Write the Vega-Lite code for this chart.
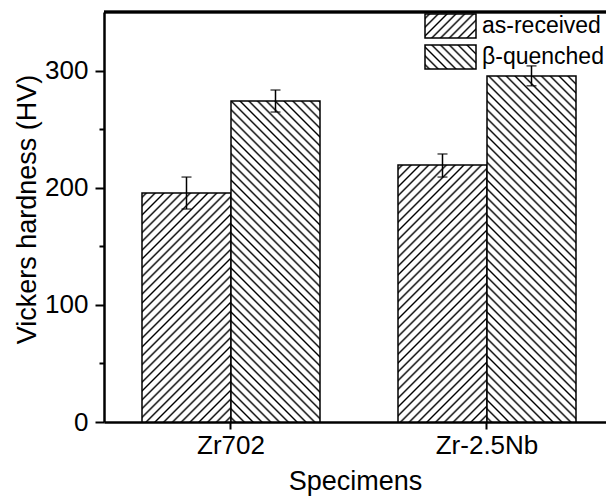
{
  "$schema": "https://vega.github.io/schema/vega-lite/v6.json",
  "autosize": {"type": "none"},
  "padding": {"left": 104, "top": 12, "right": 0, "bottom": 75},
  "width": 502,
  "height": 410,
  "background": "white",
  "config": {
    "font": "Liberation Sans",
    "view": {"stroke": null},
    "axis": {"domainColor": "black", "tickColor": "black", "labelColor": "black", "titleColor": "black", "titleFontWeight": "normal", "grid": false}
  },
  "params": [
    {"name": "hatch", "value": [
      {"offset":0.0055,"color":"#fff"},{"offset":0.01,"color":"#000"},{"offset":0.0145,"color":"#fff"},
      {"offset":0.0255,"color":"#fff"},{"offset":0.03,"color":"#000"},{"offset":0.0345,"color":"#fff"},
      {"offset":0.0455,"color":"#fff"},{"offset":0.05,"color":"#000"},{"offset":0.0545,"color":"#fff"},
      {"offset":0.0655,"color":"#fff"},{"offset":0.07,"color":"#000"},{"offset":0.0745,"color":"#fff"},
      {"offset":0.0855,"color":"#fff"},{"offset":0.09,"color":"#000"},{"offset":0.0945,"color":"#fff"},
      {"offset":0.1055,"color":"#fff"},{"offset":0.11,"color":"#000"},{"offset":0.1145,"color":"#fff"},
      {"offset":0.1255,"color":"#fff"},{"offset":0.13,"color":"#000"},{"offset":0.1345,"color":"#fff"},
      {"offset":0.1455,"color":"#fff"},{"offset":0.15,"color":"#000"},{"offset":0.1545,"color":"#fff"},
      {"offset":0.1655,"color":"#fff"},{"offset":0.17,"color":"#000"},{"offset":0.1745,"color":"#fff"},
      {"offset":0.1855,"color":"#fff"},{"offset":0.19,"color":"#000"},{"offset":0.1945,"color":"#fff"},
      {"offset":0.2055,"color":"#fff"},{"offset":0.21,"color":"#000"},{"offset":0.2145,"color":"#fff"},
      {"offset":0.2255,"color":"#fff"},{"offset":0.23,"color":"#000"},{"offset":0.2345,"color":"#fff"},
      {"offset":0.2455,"color":"#fff"},{"offset":0.25,"color":"#000"},{"offset":0.2545,"color":"#fff"},
      {"offset":0.2655,"color":"#fff"},{"offset":0.27,"color":"#000"},{"offset":0.2745,"color":"#fff"},
      {"offset":0.2855,"color":"#fff"},{"offset":0.29,"color":"#000"},{"offset":0.2945,"color":"#fff"},
      {"offset":0.3055,"color":"#fff"},{"offset":0.31,"color":"#000"},{"offset":0.3145,"color":"#fff"},
      {"offset":0.3255,"color":"#fff"},{"offset":0.33,"color":"#000"},{"offset":0.3345,"color":"#fff"},
      {"offset":0.3455,"color":"#fff"},{"offset":0.35,"color":"#000"},{"offset":0.3545,"color":"#fff"},
      {"offset":0.3655,"color":"#fff"},{"offset":0.37,"color":"#000"},{"offset":0.3745,"color":"#fff"},
      {"offset":0.3855,"color":"#fff"},{"offset":0.39,"color":"#000"},{"offset":0.3945,"color":"#fff"},
      {"offset":0.4055,"color":"#fff"},{"offset":0.41,"color":"#000"},{"offset":0.4145,"color":"#fff"},
      {"offset":0.4255,"color":"#fff"},{"offset":0.43,"color":"#000"},{"offset":0.4345,"color":"#fff"},
      {"offset":0.4455,"color":"#fff"},{"offset":0.45,"color":"#000"},{"offset":0.4545,"color":"#fff"},
      {"offset":0.4655,"color":"#fff"},{"offset":0.47,"color":"#000"},{"offset":0.4745,"color":"#fff"},
      {"offset":0.4855,"color":"#fff"},{"offset":0.49,"color":"#000"},{"offset":0.4945,"color":"#fff"},
      {"offset":0.5055,"color":"#fff"},{"offset":0.51,"color":"#000"},{"offset":0.5145,"color":"#fff"},
      {"offset":0.5255,"color":"#fff"},{"offset":0.53,"color":"#000"},{"offset":0.5345,"color":"#fff"},
      {"offset":0.5455,"color":"#fff"},{"offset":0.55,"color":"#000"},{"offset":0.5545,"color":"#fff"},
      {"offset":0.5655,"color":"#fff"},{"offset":0.57,"color":"#000"},{"offset":0.5745,"color":"#fff"},
      {"offset":0.5855,"color":"#fff"},{"offset":0.59,"color":"#000"},{"offset":0.5945,"color":"#fff"},
      {"offset":0.6055,"color":"#fff"},{"offset":0.61,"color":"#000"},{"offset":0.6145,"color":"#fff"},
      {"offset":0.6255,"color":"#fff"},{"offset":0.63,"color":"#000"},{"offset":0.6345,"color":"#fff"},
      {"offset":0.6455,"color":"#fff"},{"offset":0.65,"color":"#000"},{"offset":0.6545,"color":"#fff"},
      {"offset":0.6655,"color":"#fff"},{"offset":0.67,"color":"#000"},{"offset":0.6745,"color":"#fff"},
      {"offset":0.6855,"color":"#fff"},{"offset":0.69,"color":"#000"},{"offset":0.6945,"color":"#fff"},
      {"offset":0.7055,"color":"#fff"},{"offset":0.71,"color":"#000"},{"offset":0.7145,"color":"#fff"},
      {"offset":0.7255,"color":"#fff"},{"offset":0.73,"color":"#000"},{"offset":0.7345,"color":"#fff"},
      {"offset":0.7455,"color":"#fff"},{"offset":0.75,"color":"#000"},{"offset":0.7545,"color":"#fff"},
      {"offset":0.7655,"color":"#fff"},{"offset":0.77,"color":"#000"},{"offset":0.7745,"color":"#fff"},
      {"offset":0.7855,"color":"#fff"},{"offset":0.79,"color":"#000"},{"offset":0.7945,"color":"#fff"},
      {"offset":0.8055,"color":"#fff"},{"offset":0.81,"color":"#000"},{"offset":0.8145,"color":"#fff"},
      {"offset":0.8255,"color":"#fff"},{"offset":0.83,"color":"#000"},{"offset":0.8345,"color":"#fff"},
      {"offset":0.8455,"color":"#fff"},{"offset":0.85,"color":"#000"},{"offset":0.8545,"color":"#fff"},
      {"offset":0.8655,"color":"#fff"},{"offset":0.87,"color":"#000"},{"offset":0.8745,"color":"#fff"},
      {"offset":0.8855,"color":"#fff"},{"offset":0.89,"color":"#000"},{"offset":0.8945,"color":"#fff"},
      {"offset":0.9055,"color":"#fff"},{"offset":0.91,"color":"#000"},{"offset":0.9145,"color":"#fff"},
      {"offset":0.9255,"color":"#fff"},{"offset":0.93,"color":"#000"},{"offset":0.9345,"color":"#fff"},
      {"offset":0.9455,"color":"#fff"},{"offset":0.95,"color":"#000"},{"offset":0.9545,"color":"#fff"},
      {"offset":0.9655,"color":"#fff"},{"offset":0.97,"color":"#000"},{"offset":0.9745,"color":"#fff"},
      {"offset":0.9855,"color":"#fff"},{"offset":0.99,"color":"#000"},{"offset":0.9945,"color":"#fff"}
    ]}
  ],
  "data": {"values": [
    {"specimen": "Zr702", "condition": "as-received", "hv": 195.5, "lo": 181.8, "hi": 209.1},
    {"specimen": "Zr702", "condition": "β-quenched", "hv": 274, "lo": 264.6, "hi": 283.4},
    {"specimen": "Zr-2.5Nb", "condition": "as-received", "hv": 219.4, "lo": 209.1, "hi": 228.8},
    {"specimen": "Zr-2.5Nb", "condition": "β-quenched", "hv": 295.4, "lo": 287, "hi": 304}
  ]},
  "encoding": {
    "x": {
      "field": "specimen", "type": "nominal", "sort": ["Zr702", "Zr-2.5Nb"],
      "scale": {"paddingInner": 0.3046875, "paddingOuter": 0.1328125, "align": 0.5588},
      "axis": {"title": "Specimens", "labelAngle": 0, "labelFontSize": 26, "titleFontSize": 27, "tickSize": 7, "tickWidth": 2, "domainWidth": 2.5, "labelPadding": 3, "titlePadding": 10}
    },
    "xOffset": {"field": "condition", "type": "nominal", "sort": ["as-received", "β-quenched"]}
  },
  "layer": [
    {
      "mark": {"type": "bar", "strokeWidth": 1.5},
      "encoding": {
        "y": {
          "field": "hv", "type": "quantitative",
          "scale": {"domain": [0, 350], "nice": false},
          "axis": {
            "title": "Vickers hardness (HV)", "values": [0, 50, 100, 150, 200, 250, 300],
            "labelExpr": "datum.value % 100 === 0 ? datum.label : ''",
            "tickSize": {"condition": {"test": "datum.value % 100 === 0", "value": 9}, "value": 5},
            "labelFontSize": 26, "titleFontSize": 27, "tickWidth": 2, "domainWidth": 2.5,
            "labelPadding": 7, "titlePadding": 3, "titleY": 197
          }
        },
        "stroke": {
          "field": "condition", "type": "nominal", "sort": ["as-received", "β-quenched"],
          "scale": {"range": ["black", "black"]},
          "legend": {
            "title": null, "orient": "none", "legendX": 320, "legendY": 0, "padding": 0,
            "symbolType": "M-1,-0.47H1V0.47H-1Z", "symbolSize": 2601, "symbolStrokeWidth": 1.5,
            "clipHeight": 28,
            "labelFontSize": 23, "labelColor": "black", "labelOffset": 5, "rowPadding": 3
          }
        },
        "fill": {
          "condition": [
            {"test": "datum.condition === 'as-received' && datum.specimen === 'Zr702'", "value": {"expr": "{id:'hatchBar1',gradient:'linear',x1:0,y1:0,x2:0.6487,y2:1.6693,stops:hatch}"}},
            {"test": "datum.condition === 'as-received'", "value": {"expr": "{id:'hatchBar3',gradient:'linear',x1:0,y1:0,x2:0.5294,y2:1.5287,stops:hatch}"}},
            {"test": "datum.specimen === 'Zr702'", "value": {"expr": "{id:'hatchBar2',gradient:'linear',x1:0,y1:1,x2:0.3529,y2:-0.2729,stops:hatch}"}}
          ],
          "value": {"expr": "datum.value === 'as-received' ? {id:'hatchLegA',gradient:'linear',x1:0,y1:0,x2:7.0633,y2:3.3239,stops:hatch} : datum.value === 'β-quenched' ? {id:'hatchLegB',gradient:'linear',x1:0,y1:1,x2:7.0633,y2:-2.3239,stops:hatch} : {id:'hatchBar4',gradient:'linear',x1:0,y1:1,x2:0.3068,y2:-0.1928,stops:hatch}"}
        }
      }
    },
    {
      "mark": {"type": "rule", "color": "black", "strokeWidth": 1.5},
      "encoding": {"y": {"field": "lo", "type": "quantitative"}, "y2": {"field": "hi"}}
    },
    {
      "mark": {"type": "tick", "color": "black", "size": 10, "thickness": 1.5},
      "encoding": {"y": {"field": "lo", "type": "quantitative"}}
    },
    {
      "mark": {"type": "tick", "color": "black", "size": 10, "thickness": 1.5},
      "encoding": {"y": {"field": "hi", "type": "quantitative"}}
    },
    {
      "mark": {"type": "rule", "color": "black", "strokeWidth": 2.5},
      "encoding": {"x": null, "xOffset": null, "y": {"datum": 350}}
    }
  ]
}
